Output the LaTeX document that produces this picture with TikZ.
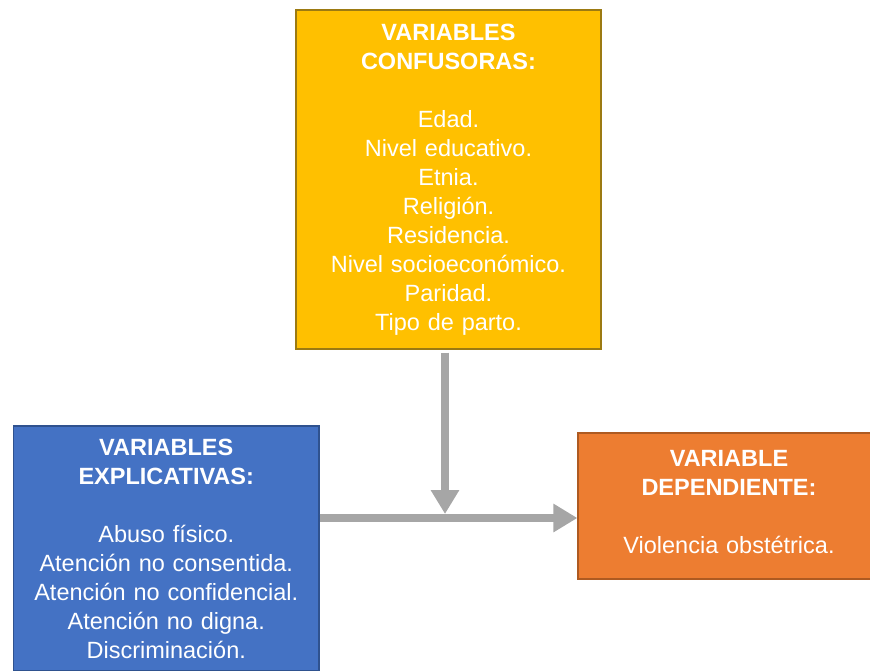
\documentclass[tikz,border=0pt]{standalone}
\usepackage{fontspec}
\setmainfont{Liberation Sans}
\usetikzlibrary{arrows.meta}

\definecolor{confyellow}{HTML}{FFC000}
\definecolor{confline}{HTML}{9C7A12}
\definecolor{explblue}{HTML}{4472C4}
\definecolor{expline}{HTML}{2F528F}
\definecolor{deporange}{HTML}{ED7D31}
\definecolor{depline}{HTML}{AE5A21}
\definecolor{arrowgray}{HTML}{A6A6A6}

\tikzset{
  varbox/.style={rectangle, line width=1.2pt, text=white, align=center,
    inner sep=0pt, font=\fontsize{23.5}{29}\selectfont},
  flecha/.style={draw=arrowgray, line width=8pt,
    -{Triangle[width=27pt,length=24pt]}}
}

\begin{document}
\begin{tikzpicture}[x=1pt,y=-1pt]

\useasboundingbox (0,0) rectangle (870,670);

\node[varbox, fill=confyellow, draw=confline, minimum width=305pt, minimum height=339pt, text width=300pt] (conf) at (448.5,179.5)
  {{\bfseries VARIABLES\\ CONFUSORAS:}\\[29pt]
   Edad.\\ Nivel educativo.\\ Etnia.\\ Religión.\\ Residencia.\\
   Nivel socioeconómico.\\ Paridad.\\ Tipo de parto.};

\node[varbox, fill=explblue, draw=expline, minimum width=305.5pt, minimum height=245pt, text width=300pt] (expl) at (166.25,548.5)
  {{\bfseries VARIABLES\\ EXPLICATIVAS:}\\[29pt]
   Abuso físico.\\ Atención no consentida.\\ Atención no confidencial.\\
   Atención no digna.\\ Discriminación.};

\node[varbox, fill=deporange, draw=depline, minimum width=302pt, minimum height=146pt, text width=295pt] (dep) at (729,506)
  {{\bfseries VARIABLE\\ DEPENDIENTE:}\\[29pt]
   Violencia obstétrica.\\[-21pt]\mbox{}};

\coordinate (cruce) at (445,518);

\draw[flecha] (expl.east |- cruce) -- (dep.west |- cruce);
\draw[flecha, shorten <=3pt] (conf.south -| cruce) -- ([yshift=4pt]cruce);

\end{tikzpicture}
\end{document}
